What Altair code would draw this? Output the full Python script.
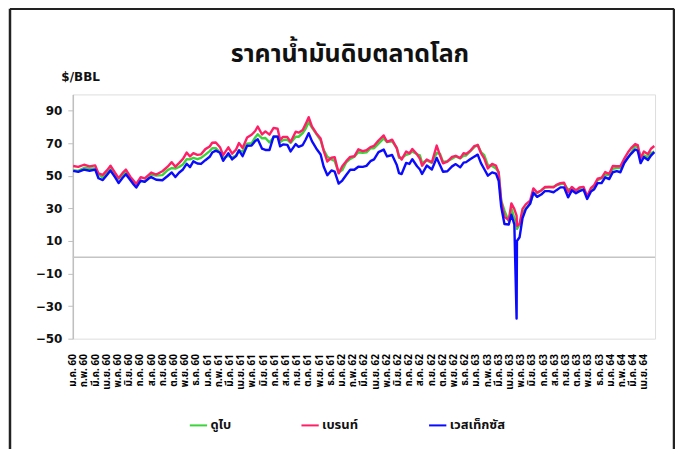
import altair as alt
import pandas as pd

TITLE = "ราคาน้ำมันดิบตลาดโลก"
UNIT = "$/BBL"
SERIES = ["ดูไบ", "เบรนท์", "เวสเท็กซัส"]
COLORS = ["#3ad43a", "#ff1f66", "#0a0aff"]
THAI_MONTHS = ["ม.ค.", "ก.พ.", "มี.ค.", "เม.ย.", "พ.ค.", "มิ.ย.",
               "ก.ค.", "ส.ค.", "ก.ย.", "ต.ค.", "พ.ย.", "ธ.ค."]
THAI_YEARS = ["60", "61", "62", "63", "64"]
N_LABELS = 52
Y_TICKS = [-50, -30, -10, 10, 30, 50, 70, 90]

dates = [
    "2017-01-02", "2017-01-16", "2017-02-01", "2017-02-15", "2017-03-01", "2017-03-10", "2017-03-22",
    "2017-04-03", "2017-04-12", "2017-04-24", "2017-05-04", "2017-05-15", "2017-05-24", "2017-06-05",
    "2017-06-14", "2017-06-21", "2017-07-03", "2017-07-14", "2017-07-26", "2017-08-01", "2017-08-15",
    "2017-09-01", "2017-09-15", "2017-09-26", "2017-10-06", "2017-10-16", "2017-10-27", "2017-11-06",
    "2017-11-15", "2017-11-24", "2017-12-05", "2017-12-15", "2017-12-27",
    "2018-01-08", "2018-01-15", "2018-01-25", "2018-02-05", "2018-02-13", "2018-02-26", "2018-03-08",
    "2018-03-19", "2018-03-27", "2018-04-06", "2018-04-18", "2018-04-30", "2018-05-10", "2018-05-17",
    "2018-05-29", "2018-06-07", "2018-06-18", "2018-06-29", "2018-07-10", "2018-07-17", "2018-07-25",
    "2018-08-06", "2018-08-15", "2018-08-29", "2018-09-06", "2018-09-17", "2018-09-25", "2018-10-03",
    "2018-10-12", "2018-10-24", "2018-11-05", "2018-11-13", "2018-11-23", "2018-12-04", "2018-12-13",
    "2018-12-24",
    "2019-01-03", "2019-01-14", "2019-01-25", "2019-02-05", "2019-02-15", "2019-02-26", "2019-03-08",
    "2019-03-19", "2019-03-29", "2019-04-10", "2019-04-24", "2019-05-03", "2019-05-17", "2019-05-30",
    "2019-06-05", "2019-06-12", "2019-06-24", "2019-07-03", "2019-07-11", "2019-07-24", "2019-08-01",
    "2019-08-07", "2019-08-20", "2019-09-03", "2019-09-16", "2019-09-25", "2019-10-03", "2019-10-15",
    "2019-10-28", "2019-11-07", "2019-11-19", "2019-11-28", "2019-12-05", "2019-12-16", "2019-12-27",
    "2020-01-06", "2020-01-15", "2020-01-24", "2020-02-03", "2020-02-14", "2020-02-24", "2020-03-02",
    "2020-03-09", "2020-03-18", "2020-03-30", "2020-04-06", "2020-04-14", "2020-04-20", "2020-04-21",
    "2020-04-28", "2020-05-06", "2020-05-15", "2020-05-27", "2020-06-05", "2020-06-15", "2020-06-26",
    "2020-07-06", "2020-07-17", "2020-07-30", "2020-08-07", "2020-08-18", "2020-08-28", "2020-09-08",
    "2020-09-18", "2020-09-29", "2020-10-09", "2020-10-20", "2020-10-30", "2020-11-09", "2020-11-18",
    "2020-11-27", "2020-12-08", "2020-12-18", "2020-12-29",
    "2021-01-08", "2021-01-19", "2021-01-29", "2021-02-08", "2021-02-17", "2021-02-25", "2021-03-08",
    "2021-03-15", "2021-03-23", "2021-04-01", "2021-04-12", "2021-04-20", "2021-04-29",
]

dubai = [
    53.5, 53.0, 54.8, 54.5, 54.6, 50.9, 48.9,
    51.8, 54.0, 50.6, 48.2, 50.7, 52.3, 48.3,
    46.0, 45.0, 46.8, 46.4, 49.0, 50.8, 50.2,
    50.4, 53.5, 54.8, 54.4, 55.4, 57.0, 60.2,
    60.1, 61.0, 60.2, 61.0, 63.0,
    65.2, 66.9, 67.0, 64.3, 61.0, 62.3, 61.3,
    62.4, 65.8, 64.8, 69.8, 70.0, 73.6, 75.5,
    73.0, 73.2, 70.5, 73.7, 74.2, 70.8, 71.9,
    72.2, 70.2, 74.0, 74.0, 76.3, 79.0, 83.0,
    79.6, 75.8, 71.8, 66.0, 61.7, 60.1, 59.1,
    52.0,
    53.5, 58.3, 60.4, 61.8, 64.5, 64.2, 64.4,
    66.9, 66.9, 69.8, 73.0, 70.7, 71.2, 67.2,
    61.1, 61.0, 62.9, 63.5, 65.0, 63.2, 62.5,
    58.0, 59.5, 58.0, 64.0, 63.5, 58.5, 59.0,
    60.5, 61.9, 60.7, 62.3, 62.5, 65.0, 67.5,
    69.0, 64.6, 62.7, 56.5, 56.0, 54.5, 52.3,
    35.0, 28.6, 22.0, 30.0, 24.0, 20.3, 17.4,
    20.0, 27.0, 30.0, 33.0, 39.0, 39.4, 41.0,
    42.8, 43.1, 43.3, 44.1, 44.9, 45.2, 41.5,
    42.2, 40.8, 42.0, 41.4, 37.9, 40.7, 43.4,
    47.3, 48.5, 50.4, 50.4,
    54.3, 54.8, 54.8, 58.4, 61.1, 64.0, 68.6,
    67.0, 61.5, 62.5, 61.5, 64.0, 64.8,
]

brent = [
    56.0, 55.5, 56.8, 55.8, 56.4, 51.5, 50.6,
    53.5, 56.2, 51.9, 48.6, 51.8, 53.8, 49.5,
    47.0, 45.0, 49.2, 48.4, 50.8, 52.0, 50.8,
    52.8, 55.6, 58.4, 55.6, 57.8, 60.4, 64.3,
    61.9, 63.9, 62.9, 63.2, 66.4,
    68.0, 70.3, 70.5, 67.6, 62.7, 67.5, 63.6,
    66.1, 70.1, 67.1, 73.5, 75.2, 77.5, 80.3,
    75.4, 77.3, 75.3, 79.4, 78.9, 72.0, 73.9,
    73.8, 70.8, 77.1, 76.5, 78.1, 81.9, 86.0,
    80.4, 76.2, 72.9, 65.5, 58.8, 61.1, 61.5,
    51.5,
    55.9, 59.0, 61.6, 62.0, 66.3, 65.2, 65.7,
    67.6, 68.4, 71.7, 74.8, 70.9, 72.2, 66.9,
    62.0, 60.0, 64.9, 63.8, 66.5, 63.2, 60.5,
    56.2, 60.0, 58.3, 68.6, 62.4, 57.7, 58.7,
    61.6, 62.3, 60.9, 63.9, 63.4, 65.3, 68.2,
    68.9, 64.0, 60.7, 54.5, 57.3, 56.3, 51.9,
    34.4, 24.9, 22.8, 33.1, 29.6, 25.6, 19.3,
    20.5, 29.7, 32.5, 34.7, 42.3, 39.7, 41.0,
    43.1, 43.1, 42.9, 44.4, 45.5, 45.8, 39.8,
    43.2, 41.0, 42.9, 43.2, 37.5, 42.4, 44.3,
    48.2, 48.8, 52.3, 51.1,
    56.0, 55.9, 55.9, 60.6, 64.3, 67.0, 69.5,
    68.9, 60.8, 64.9, 63.3, 66.6, 68.3,
]

wti = [
    53.0, 52.4, 53.8, 53.1, 53.8, 48.5, 47.4,
    50.6, 53.2, 49.2, 45.6, 48.8, 51.0, 47.4,
    44.7, 42.8, 47.0, 46.3, 48.5, 49.2, 47.6,
    47.3, 49.9, 52.1, 49.3, 51.9, 53.9, 57.4,
    55.3, 58.9, 57.6, 57.3, 59.6,
    61.7, 64.3, 65.5, 64.2, 59.2, 63.9, 60.1,
    62.1, 65.6, 62.1, 68.5, 68.6, 71.4, 72.5,
    66.7, 65.9, 65.9, 74.2, 74.1, 68.1, 69.3,
    69.0, 65.0, 69.5, 67.8, 68.9, 72.3, 76.2,
    71.3, 66.8, 63.1, 55.7, 50.4, 53.3, 52.6,
    45.2,
    47.1, 50.5, 53.7, 53.7, 55.6, 55.5, 56.1,
    59.0, 60.1, 64.6, 66.1, 61.9, 62.8, 56.6,
    51.7, 51.1, 57.9, 57.3, 60.2, 55.9, 53.9,
    51.1, 56.3, 53.9, 61.0, 56.5, 52.5, 52.8,
    55.8, 57.2, 55.2, 58.1, 58.4, 60.2, 61.7,
    63.0, 57.8, 54.2, 50.1, 52.1, 51.4, 47.0,
    31.1, 20.4, 20.1, 26.1, 20.1, -37.6, 10.0,
    12.3, 23.9, 29.4, 32.8, 39.6, 37.1, 38.5,
    40.6, 40.6, 39.9, 41.2, 42.9, 42.9, 36.8,
    41.1, 39.3, 40.6, 41.5, 35.8, 40.3, 41.8,
    45.5, 45.6, 49.1, 48.0,
    52.2, 52.9, 52.2, 57.9, 61.1, 63.5, 66.2,
    65.4, 57.8, 61.5, 59.7, 62.4, 64.5,
]

# ---- build table ----
d = pd.to_datetime(pd.Series(dates))
month_pos = (d.dt.year - 2017) * 12 + (d.dt.month - 1) + (d.dt.day - 1) / d.dt.days_in_month
frames = []
for name, vals in zip(SERIES, [dubai, brent, wti]):
    frames.append(pd.DataFrame({"m": month_pos, "price": vals, "series": name}))
df = pd.concat(frames, ignore_index=True)

labels = [f"{THAI_MONTHS[i % 12]} {THAI_YEARS[i // 12]}" for i in range(N_LABELS)]
label_expr = "[" + ",".join(f"'{s}'" for s in labels) + "][datum.value]"

FONT_TH = "Tahoma, 'Noto Sans Thai', 'Noto Sans Thai UI', Loma, Garuda, 'DejaVu Sans', sans-serif"
FONT_NUM = "'DejaVu Sans', Verdana, sans-serif"

y_scale = alt.Scale(domain=[-50, 100], nice=False, zero=False)

x_enc = alt.X(
    "m:Q",
    scale=alt.Scale(domain=[0, N_LABELS], nice=False, zero=False),
    axis=alt.Axis(
        values=list(range(N_LABELS)), labelExpr=label_expr, labelAngle=270,
        labelFont=FONT_TH, labelFontSize=10, labelFontWeight="bold", labelColor="#000",
        labelPadding=15, ticks=False, domain=False, grid=False, title=None,
        labelOverlap=False, labelBound=False, labelFlush=False,
    ),
)
y_enc = alt.Y(
    "price:Q",
    scale=y_scale,
    axis=alt.Axis(
        values=Y_TICKS, labelFont=FONT_NUM, labelFontSize=12, labelFontWeight="bold",
        labelColor="#111", labelPadding=6, tickSize=5, tickColor="#bfbfbf",
        labelOverlap=False, labelFlush=False, labelBound=False,
        domainColor="#bfbfbf", domainWidth=1.5, grid=False,
        title=UNIT, titleAngle=0, titleX=-12, titleY=-14, titleAlign="left",
        titleBaseline="alphabetic", titleFont=FONT_NUM, titleFontSize=12,
        titleFontWeight="bold", titleColor="#111",
    ),
)
color_enc = alt.Color(
    "series:N",
    scale=alt.Scale(domain=SERIES, range=COLORS),
    legend=alt.Legend(
        title=None, orient="none", legendX=116, legendY=322, direction="horizontal",
        symbolType="stroke", symbolSize=300, symbolStrokeWidth=2,
        labelFont=FONT_TH, labelFontSize=13, labelFontWeight="bold", labelColor="#111",
        labelOffset=2, columnPadding=66,
    ),
)

zero = alt.Chart(pd.DataFrame({"price": [0]})).mark_rule(
    color="#c4c4c4", strokeWidth=1.5
).encode(y=y_enc)

layers = [zero]
for name in SERIES:
    layers.append(
        alt.Chart(df).transform_filter(alt.datum.series == name)
        .mark_line(strokeWidth=2.4, strokeJoin="round")
        .encode(x=x_enc, y=y_enc, color=color_enc, order=alt.Order("m:Q"))
    )

title_mark = alt.Chart(pd.DataFrame({"t": [TITLE]})).mark_text(
    font=FONT_TH, fontSize=25, fontWeight="bold", color="#111",
    align="center", baseline="alphabetic",
).encode(text="t:N", x=alt.value(278), y=alt.value(-33))

frame_df = pd.DataFrame({"k": [0]})
frame_left = alt.Chart(frame_df).mark_rule(color="#222", strokeWidth=2.5).encode(
    x=alt.value(-63), y=alt.value(-86), y2=alt.value(365))
frame_top = alt.Chart(frame_df).mark_rule(color="#222", strokeWidth=2.5).encode(
    x=alt.value(-63), x2=alt.value(603), y=alt.value(-86))
frame_right = alt.Chart(frame_df).mark_rule(color="#222", strokeWidth=2.5).encode(
    x=alt.value(603), y=alt.value(-86), y2=alt.value(365))

chart = alt.layer(*layers, title_mark, frame_left, frame_top, frame_right).properties(
    width=584, height=245,
    autosize=alt.AutoSizeParams(type="none"),
    padding={"left": 65, "top": 86, "right": 20, "bottom": 110},
).configure_axis(labelOverlap=False).configure_view(
    stroke="#e6e6e6", strokeWidth=1
).configure(background="white")

chart.save("out.html", embed_options={"renderer": "svg", "actions": False})
